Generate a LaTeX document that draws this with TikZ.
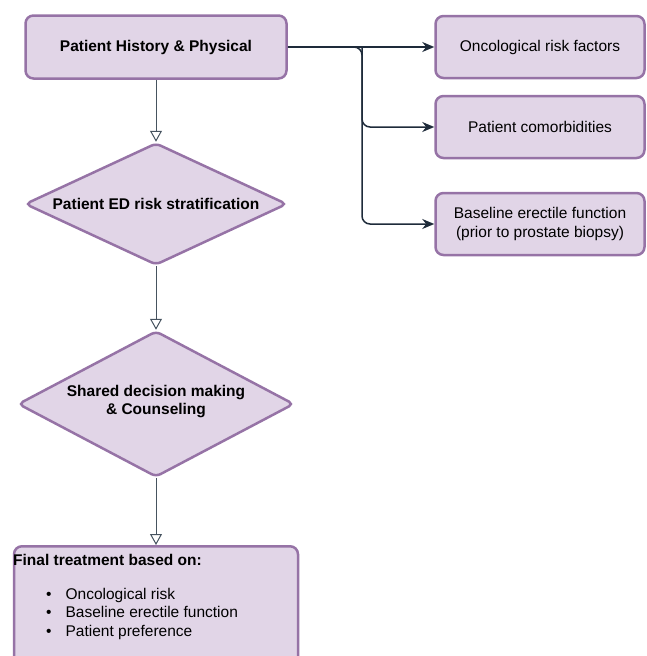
\documentclass[tikz,border=0pt]{standalone}
\usepackage{fontspec}
\setmainfont{Liberation Sans}
\usetikzlibrary{arrows.meta}
\usetikzlibrary{shapes.geometric}
\definecolor{boxfill}{HTML}{E1D5E7}
\definecolor{boxline}{HTML}{9673A6}
\definecolor{linkgray}{HTML}{46535F}
\definecolor{linkdark}{HTML}{1E2B3A}

\begin{document}
\begin{tikzpicture}[x=1pt, y=-1pt, font=\fontsize{15.5}{18.5}\selectfont,
 box/.style={draw=boxline, fill=boxfill, line width=2.5pt, rounded corners=8pt, align=center},
 decision/.style={diamond, draw=boxline, fill=boxfill, line width=2.5pt, rounded corners=5pt, align=center, inner sep=0pt, font=\fontsize{15.5}{18.5}\selectfont\bfseries},
 flow/.style={draw=linkgray, line width=1pt, -{Triangle[open, length=11pt, width=12pt]}},
 branch/.style={draw=linkdark, line width=1.5pt, rounded corners=8pt, -{Stealth[length=12pt, width=10pt]}}]
\useasboundingbox (0,0) rectangle (647,656);
\clip (0,0) rectangle (647,656);
\node[box, minimum width=261pt, minimum height=63pt, font=\fontsize{15.5}{18.5}\selectfont\bfseries] (hist) at (156,47) {Patient History \& Physical};
\node[decision, shape aspect=2.15, minimum width=262pt, minimum height=122pt] (strat) at (156,204) {Patient ED risk stratification};
\node[decision, shape aspect=1.89, minimum width=276pt, minimum height=146pt, text depth=8pt] (shared) at (156,404) {Shared decision making\\ \& Counseling};
\node[box, minimum width=284pt, minimum height=130pt, anchor=north] (final) at (156,545) {};
\node[anchor=north west, align=left, inner sep=0pt] (finaltxt) at (13,554) {\textbf{Final treatment based on:}\\[15.5pt]
 \hspace*{33pt}\textbullet\hspace{14pt}Oncological risk\\
 \hspace*{33pt}\textbullet\hspace{14pt}Baseline erectile function\\
 \hspace*{33pt}\textbullet\hspace{14pt}Patient preference};
\node[box, minimum width=209pt, minimum height=62pt] (onco) at (540,47) {Oncological risk factors};
\node[box, minimum width=209pt, minimum height=62pt] (como) at (540,127) {Patient comorbidities};
\node[box, minimum width=209pt, minimum height=62pt] (base) at (540,224) {Baseline erectile function\\(prior to prostate biopsy)};
\coordinate (split) at (362,47);
\draw[flow] (hist) -- (strat);
\draw[flow] (strat) -- (shared);
\draw[flow] (shared) -- (final);
\draw[branch] (hist.east) -- (onco.west);
\draw[branch] (hist.east) -- (split) |- (como.west);
\draw[branch] (split) |- (base.west);
\end{tikzpicture}
\end{document}
